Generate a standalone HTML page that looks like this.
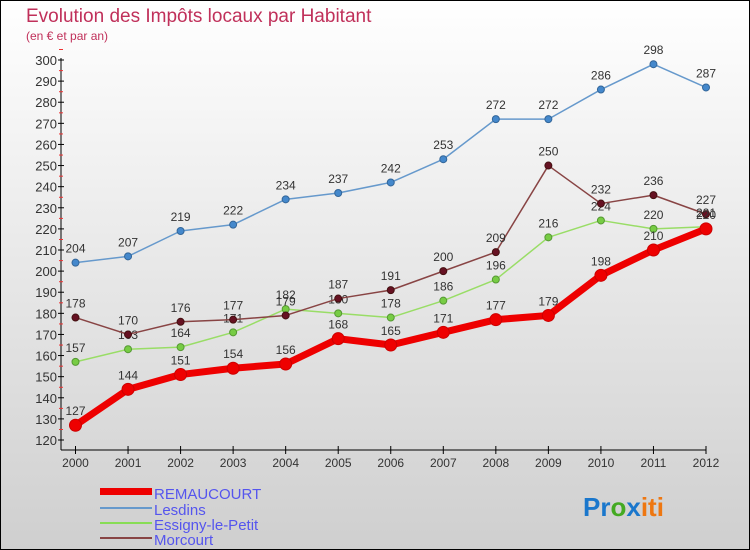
<!DOCTYPE html>
<html><head><meta charset="utf-8"><style>
body{margin:0;width:750px;height:550px;overflow:hidden}
svg{display:block;font-family:"Liberation Sans",sans-serif}
</style></head><body>
<svg width="750" height="550">
<defs><linearGradient id="bg" x1="0" y1="0" x2="0" y2="1"><stop offset="0" stop-color="#ffffff"/><stop offset="1" stop-color="#cfcfcf"/></linearGradient></defs>
<rect x="0.5" y="0.5" width="749" height="549" fill="url(#bg)" stroke="#000"/>
<text x="26" y="22" font-size="19" fill="#c0305a">Evolution des Impôts locaux par Habitant</text>
<text x="26" y="40" font-size="12" fill="#c0305a">(en € et par an)</text>
<g id="axes"></g><g id="series"></g>
<g>
<rect x="100" y="488" width="52" height="7" fill="#e00"/>
<text x="154" y="499" font-size="15" fill="#5555ee">REMAUCOURT</text>
<line x1="100" y1="508" x2="152" y2="508" stroke="#6699cc" stroke-width="2"/>
<text x="154" y="515" font-size="15" fill="#5555ee">Lesdins</text>
<line x1="100" y1="523" x2="152" y2="523" stroke="#88dd55" stroke-width="2"/>
<text x="154" y="530" font-size="15" fill="#5555ee">Essigny-le-Petit</text>
<line x1="100" y1="538" x2="152" y2="538" stroke="#884444" stroke-width="2"/>
<text x="154" y="545" font-size="15" fill="#5555ee">Morcourt</text>
</g>
<text x="583" y="516" font-size="26" font-weight="bold"><tspan fill="#1a77cc">Pr</tspan><tspan fill="#44aa22">o</tspan><tspan fill="#1a77cc">x</tspan><tspan fill="#ee7711">iti</tspan></text>
</svg>
<script>
const years=[2000,2001,2002,2003,2004,2005,2006,2007,2008,2009,2010,2011,2012];
const remaucourt=[127,144,151,154,156,168,165,171,177,179,198,210,220];
const lesdins=[204,207,219,222,234,237,242,253,272,272,286,298,287];
const essigny=[157,163,164,171,182,180,178,186,196,216,224,220,221];
const morcourt=[178,170,176,177,179,187,191,200,209,250,232,236,227];
const yTicks=[120,130,140,150,160,170,180,190,200,210,220,230,240,250,260,270,280,290,300];
const NS='http://www.w3.org/2000/svg';
const xs=i=>75.5+i*(706-75.5)/12;
const ys=v=>60+(300-v)*(440-60)/180;
function mk(t,a,p){const e=document.createElementNS(NS,t);for(const k in a)e.setAttribute(k,a[k]);p.appendChild(e);return e;}
const ax=document.getElementById('axes');
let yl=mk('line',{x1:61,y1:58,x2:61,y2:450,stroke:'#000'},ax);


let xl=mk('line',{x1:61,y1:450,x2:706,y2:450,stroke:'#000'},ax);


yTicks.forEach(v=>{mk('line',{x1:58,x2:64,y1:ys(v),y2:ys(v),stroke:'#000'},ax);
 mk('line',{x1:59,x2:63,y1:ys(v)-10.5,y2:ys(v)-10.5,stroke:'#e33'},ax);
 const t=mk('text',{x:57,y:ys(v)+5,'text-anchor':'end','font-size':13,fill:'#333'},ax);t.textContent=v;
 
 });
years.forEach((y,i)=>{mk('line',{x1:xs(i),x2:xs(i),y1:446,y2:454,stroke:'#000'},ax);
 const t=mk('text',{x:xs(i),y:467,'text-anchor':'middle','font-size':12,fill:'#333'},ax);t.textContent=y;
 
 });
const sg=document.getElementById('series');
function draw(data,color,w,r,name,dot,stroke){
 const g=mk('g',{},sg);
 
 
 mk('polyline',{points:data.map((v,i)=>xs(i)+','+ys(v)).join(' '),fill:'none',stroke:color,'stroke-width':w,'stroke-linejoin':'round'},g);
 data.forEach((v,i)=>{const c=mk('circle',{cx:xs(i),cy:ys(v),r:r,fill:dot,stroke:stroke,'stroke-width':1},g);
  
  
  const t=mk('text',{x:xs(i),y:ys(v)-10,'text-anchor':'middle','font-size':12,fill:'#333'},g);t.textContent=v;});
}
draw(lesdins,'#6699cc',1.5,3.5,'lesdins','#4488cc','#336699');
draw(essigny,'#99dd66',1.5,3.5,'essigny','#77cc44','#559933');
draw(morcourt,'#884444',1.5,3.5,'morcourt','#661122','#441111');
draw(remaucourt,'#ee0000',7,6,'remaucourt','#ee0000','#cc0000');
</script>
</body></html>
